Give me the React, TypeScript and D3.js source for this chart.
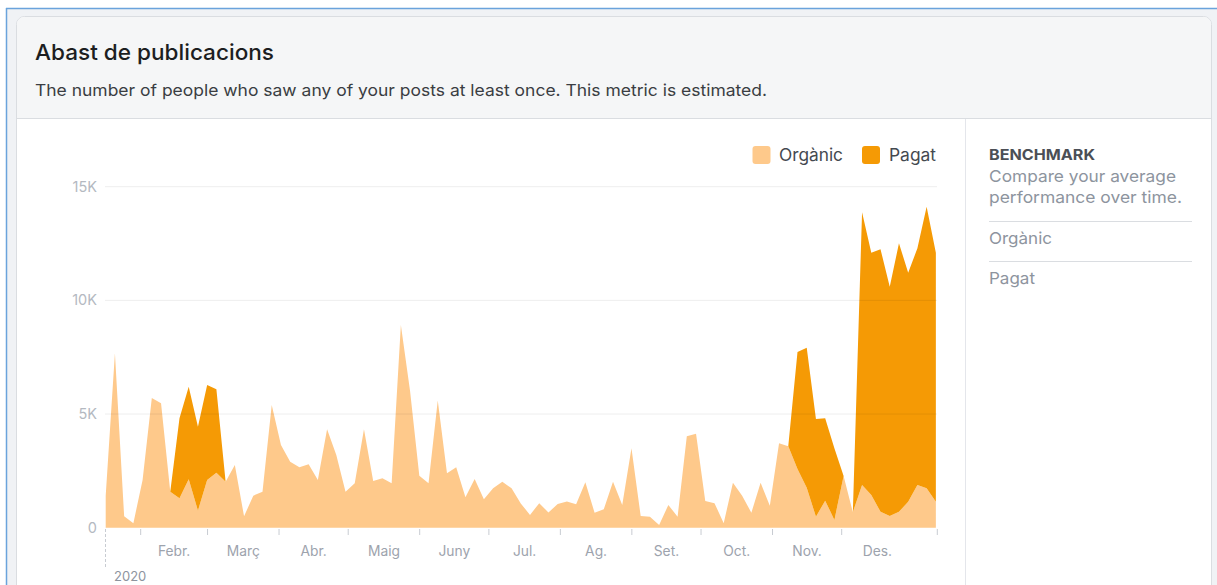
import React from "react";
import * as d3 from "d3";

// ---- data (values in people, sampled every 4 days) ----
const organic: number[] = [
  1400, 7670, 500, 200, 2100, 5700, 5470, 1580, 1290, 2130,
  750, 2100, 2420, 2020, 2760, 500, 1410, 1580, 5400, 3640,
  2900, 2660, 2790, 2100, 4330, 3200, 1580, 1950, 4330, 2050,
  2170, 1950, 8920, 6000, 2290, 1950, 5590, 2390, 2660, 1340,
  2140, 1250, 1730, 2020, 1730, 1070, 560, 1080, 670, 1040,
  1150, 1030, 2000, 660, 810, 2020, 1000, 3490, 510, 480,
  120, 1000, 480, 4020, 4130, 1180, 1080, 200, 1980, 1400,
  660, 1980, 970, 3720, 3580, 2580, 1760, 480, 1190, 340,
  2270, 680, 1880, 1440, 700, 510, 700, 1140, 1880, 1730,
  1140,
];
const paid: number[] = [
  0, 0, 0, 0, 0, 0, 0, 0, 3520, 4070,
  3690, 4180, 3670, 0, 0, 0, 0, 0, 0, 0,
  0, 0, 0, 0, 0, 0, 0, 0, 0, 0,
  0, 0, 0, 0, 0, 0, 0, 0, 0, 0,
  0, 0, 0, 0, 0, 0, 0, 0, 0, 0,
  0, 0, 0, 0, 0, 0, 0, 0, 0, 0,
  0, 0, 0, 0, 0, 0, 0, 0, 0, 0,
  0, 0, 0, 0, 0, 5150, 6160, 4300, 3620, 3150,
  0, 0, 12000, 10660, 11550, 10090, 11810, 10080, 10410, 12390,
  10960,
];
const seriesNames = ["Orgànic", "Pagat"];
const monthLabels = ["Febr.", "Març", "Abr.", "Maig", "Juny", "Jul.", "Ag.", "Set.", "Oct.", "Nov.", "Des."];
const yTicks = [0, 5000, 10000, 15000];
const yTickLabels = ["0", "5K", "10K", "15K"];
const yearLabel = "2020";
const title = "Abast de publicacions";
const subtitle = "The number of people who saw any of your posts at least once. This metric is estimated.";
const benchmarkTitle = "BENCHMARK";
const benchmarkText = ["Compare your average", "performance over time."];

const startDate = new Date(2020, 0, 16, 20);
const endDate = new Date(2021, 0, 11, 11);
const stepDays = 4;

const COL_ORG = "#fec98b";
const COL_PAID = "#f59a05";
const FONT = "Inter, 'Noto Sans', 'Liberation Sans', sans-serif";

export default function App() {
  const W = 1217, H = 585;
  const rows = organic.map((o, i) => ({
    date: d3.timeHour.offset(startDate, i * stepDays * 24),
    organic: o,
    paid: paid[i],
  }));

  const x = d3.scaleTime().domain([startDate, endDate]).range([105.7, 937.3]);
  const y = d3.scaleLinear().domain([0, 15000]).range([527.7, 186.7]);

  const stack = d3.stack<any>().keys(["organic", "paid"]);
  const layers = stack(rows as any);

  const areaOrg = d3
    .area<any>()
    .x((d) => x(d.data.date))
    .y0((d) => y(d[0]))
    .y1((d) => y(d[1]));
  const areaPaid = d3
    .area<any>()
    .defined((_, i) => paid[i] > 0 || (paid[i - 1] ?? 0) > 0 || (paid[i + 1] ?? 0) > 0)
    .x((d) => x(d.data.date))
    .y0((d) => y(d[0]))
    .y1((d) => y(d[1]));

  const monthStarts = d3.timeMonth.range(new Date(2020, 1, 1), new Date(2021, 0, 2));
  const tickDates = monthStarts.slice(0, 11);
  const labelPos = monthLabels.map((_, i) => (x(monthStarts[i]) + x(monthStarts[i + 1])) / 2);

  const axisY = 528;

  return (
    <svg
      width={W}
      height={H}
      style={{ position: "absolute", left: 0, top: 0, fontFamily: FONT }}
    >
      <rect x={0} y={0} width={W} height={H} fill="#ffffff" />
      <rect x={6} y={8} width={W} height={H} fill="#f0f2f5" />
      {/* card */}
      <rect x={16.5} y={16.5} width={1195} height={620} rx={8} fill="#ffffff" stroke="#dadde1" />
      <path d="M17,118 L17,25 Q17,17 25,17 L1203,17 Q1211,17 1211,25 L1211,118 Z" fill="#f5f6f7" />
      <line x1={17} x2={1211} y1={118.5} y2={118.5} stroke="#dadde1" />
      {/* blue selection frame */}
      <line x1={6} x2={W} y1={8.5} y2={8.5} stroke="#6aa3dc" strokeWidth={1.5} />
      <line x1={6.5} x2={6.5} y1={8} y2={H} stroke="#6aa3dc" strokeWidth={1.5} />

      <text x={35} y={60} fontSize={22} fontWeight={500} fill="#1c1e21" textLength={239} lengthAdjust="spacingAndGlyphs">{title}</text>
      <text x={35} y={96} fontSize={16.5} fill="#3a3d42" textLength={732} lengthAdjust="spacingAndGlyphs">{subtitle}</text>

      {/* right panel */}
      <line x1={965.5} x2={965.5} y1={119} y2={H} stroke="#e4e6eb" />
      <text x={989} y={160} fontSize={14.5} fontWeight={700} fill="#4b4f56" textLength={106} lengthAdjust="spacingAndGlyphs">{benchmarkTitle}</text>
      <text x={989} y={182} fontSize={16.5} fill="#8d949e" textLength={187} lengthAdjust="spacingAndGlyphs">{benchmarkText[0]}</text>
      <text x={989} y={203} fontSize={16.5} fill="#8d949e" textLength={193} lengthAdjust="spacingAndGlyphs">{benchmarkText[1]}</text>
      <line x1={989} x2={1192} y1={221.5} y2={221.5} stroke="#dadde1" />
      <text x={989} y={244} fontSize={16.5} fill="#8d949e" textLength={63} lengthAdjust="spacingAndGlyphs">{seriesNames[0]}</text>
      <line x1={989} x2={1192} y1={261.5} y2={261.5} stroke="#dadde1" />
      <text x={989} y={284} fontSize={16.5} fill="#8d949e" textLength={46} lengthAdjust="spacingAndGlyphs">{seriesNames[1]}</text>

      {/* legend */}
      <rect x={752.5} y={146} width={18} height={18} rx={3} fill={COL_ORG} />
      <text x={779} y={161} fontSize={17} fill="#444950" textLength={64} lengthAdjust="spacingAndGlyphs">{seriesNames[0]}</text>
      <rect x={862} y={146} width={18} height={18} rx={3} fill={COL_PAID} />
      <text x={889} y={161} fontSize={17} fill="#444950" textLength={47} lengthAdjust="spacingAndGlyphs">{seriesNames[1]}</text>

      {/* areas */}
      <path d={areaOrg(layers[0]) || ""} fill={COL_ORG} />
      <path d={areaPaid(layers[1]) || ""} fill={COL_PAID} />

      {/* grid */}
      {yTicks.map((t, i) => (
        <g key={t}>
          {t > 0 && (
            <line x1={105} x2={937} y1={y(t)} y2={y(t)} stroke="rgba(0,0,0,0.07)" />
          )}
          <text x={97} y={y(t) + 5} fontSize={14.5} textAnchor="end" fill="#b4b9c1">
            {yTickLabels[i]}
          </text>
        </g>
      ))}

      {/* x axis */}
      {tickDates.map((d, i) => (
        <line key={i} x1={x(d)} x2={x(d)} y1={axisY + 1} y2={axisY + 7} stroke="#c8ccd2" strokeWidth={1} />
      ))}
      <line x1={x(endDate)} x2={x(endDate)} y1={axisY + 1} y2={axisY + 7} stroke="#c8ccd2" />
      <line x1={105.5} x2={105.5} y1={axisY + 1} y2={568} stroke="#c8ccd2" strokeDasharray="3,2" />
      {monthLabels.map((m, i) => (
        <text key={m} x={labelPos[i]} y={556} fontSize={13.8} textAnchor="middle" fill="#9da3ad">
          {m}
        </text>
      ))}
      <text x={114} y={581} fontSize={13} fill="#8d949e">{yearLabel}</text>
    </svg>
  );
}
